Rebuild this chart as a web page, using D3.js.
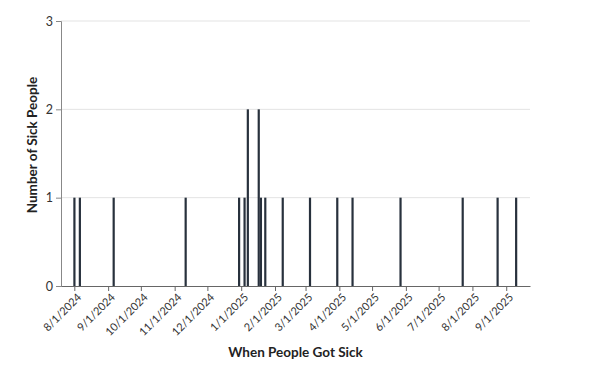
<!DOCTYPE html>
<html>
<head>
<meta charset="utf-8">
<script src="https://cdn.jsdelivr.net/npm/d3@7"></script>
<style>
  body { margin: 0; background: #fff; }
  text { font-family: Lato, "Noto Sans", sans-serif; }
</style>
</head>
<body>
<svg id="chart"></svg>
<script>
// dates when someone got sick, and how many people that day
const sickDates = [
  "2024-08-01", "2024-08-06", "2024-09-06", "2024-11-11", "2024-12-30",
  "2025-01-04", "2025-01-07", "2025-01-17", "2025-01-19", "2025-01-23",
  "2025-02-08", "2025-03-05", "2025-03-30", "2025-04-13", "2025-05-27",
  "2025-07-23", "2025-08-24", "2025-09-10"
];
const sickCounts = [1, 1, 1, 1, 1, 1, 2, 2, 1, 1, 1, 1, 1, 1, 1, 1, 1, 1];
const yTicks = [0, 1, 2, 3];

const width = 590;
const height = 373;
const margin = { top: 21, right: 60, bottom: 87, left: 61 };

const parse = d3.timeParse("%Y-%m-%d");
const data = sickDates.map((d, i) => ({ date: parse(d), count: sickCounts[i] }));

const svg = d3.select("#chart")
    .attr("width", width)
    .attr("height", height);

// pad the time domain a bit on both sides
const x = d3.scaleTime()
    .domain([new Date(2024, 6, 19, 19), new Date(2025, 8, 22, 19)])
    .range([margin.left, width - margin.right]);

const y = d3.scaleLinear()
    .domain([0, 3])
    .range([height - margin.bottom, margin.top]);

// gridlines
svg.append("g")
    .selectAll("line")
    .data(yTicks.filter(d => d > 0))
    .join("line")
    .attr("x1", margin.left)
    .attr("x2", width - margin.right)
    .attr("y1", d => y(d))
    .attr("y2", d => y(d))
    .attr("stroke", "#e3e3e3")
    .attr("stroke-width", 1);

// bars
svg.append("g")
    .selectAll("rect")
    .data(data)
    .join("rect")
    .attr("x", d => x(d.date) - 1)
    .attr("y", d => y(d.count))
    .attr("width", 2.2)
    .attr("height", d => y(0) - y(d.count))
    .attr("fill", "#28313d");

// y axis
const yAxis = svg.append("g")
    .attr("transform", `translate(${margin.left},0)`)
    .call(d3.axisLeft(y).tickValues(yTicks).tickFormat(d3.format("d")).tickSize(5).tickPadding(3));
yAxis.select(".domain").attr("stroke", "#888");
yAxis.selectAll(".tick line").attr("stroke", "#888");
yAxis.selectAll(".tick text")
    .style("font-size", "12.5px")
    .attr("fill", "#333");

// x axis, one tick per month
const xAxis = svg.append("g")
    .attr("transform", `translate(0,${height - margin.bottom})`)
    .call(d3.axisBottom(x)
        .ticks(d3.timeMonth.every(1))
        .tickFormat(d3.timeFormat("%-m/%-d/%Y"))
        .tickSize(5)
        .tickSizeOuter(0));
xAxis.select(".domain").attr("stroke", "#666");
xAxis.selectAll(".tick line").attr("stroke", "#666");
xAxis.selectAll(".tick text")
    .style("font-size", "11px")
    .attr("fill", "#333")
    .attr("text-anchor", "end")
    .attr("dx", "-0.3em")
    .attr("dy", "0.5em")
    .attr("transform", "rotate(-45)");

// axis titles
svg.append("text")
    .attr("x", (margin.left + width - margin.right) / 2)
    .attr("y", 357)
    .attr("text-anchor", "middle")
    .style("font-size", "13.5px")
    .style("font-weight", "bold")
    .attr("fill", "#222")
    .text("When People Got Sick");

svg.append("text")
    .attr("transform", `translate(37,145) rotate(-90)`)
    .attr("text-anchor", "middle")
    .style("font-size", "13.5px")
    .style("font-weight", "bold")
    .attr("fill", "#222")
    .text("Number of Sick People");
</script>
</body>
</html>
